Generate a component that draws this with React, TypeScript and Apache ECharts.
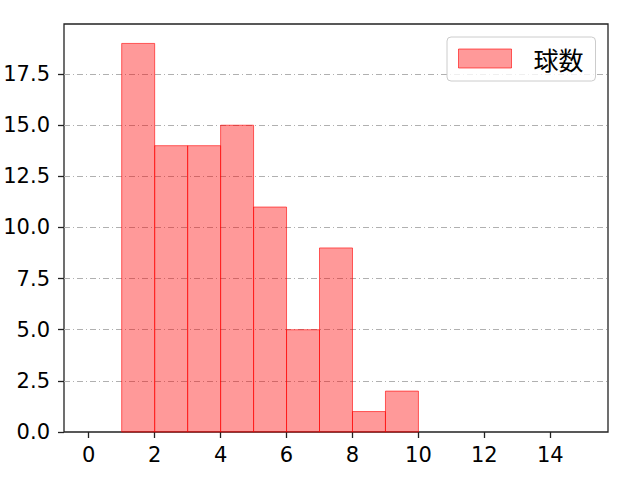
import { useEffect, useRef } from "react";
import * as echarts from "echarts";

const binEdges = [0, 1, 2, 3, 4, 5, 6, 7, 8, 9, 10, 11, 12, 13, 14, 15];
const counts = [0, 19, 14, 14, 15, 11, 5, 9, 1, 2, 0, 0, 0, 0, 0];
const xTicks = [0, 2, 4, 6, 8, 10, 12, 14];
const yTicks = [0, 2.5, 5, 7.5, 10, 12.5, 15, 17.5];
const seriesName = "球数";

const FILL = "rgba(255,0,0,0.4)";
const EDGE = "rgba(255,0,0,0.6)";
const CJK = "'Noto Sans CJK JP', sans-serif";
const NUM = "'DejaVu Sans', sans-serif";

export default function App() {
    const ref = useRef<HTMLDivElement>(null);

    useEffect(() => {
        if (!ref.current) return;
        const chart = echarts.init(ref.current, undefined, { renderer: "svg" });
        const data = counts.map((c, i) => [binEdges[i], binEdges[i + 1], c]);

        chart.setOption({
            animation: false,
            backgroundColor: "#fff",
            grid: {
                left: 64,
                right: 32,
                top: 24,
                bottom: 48,
                show: true,
                borderColor: "#222",
                borderWidth: 1.3,
                backgroundColor: "transparent",
            },
            legend: {
                data: [{ name: seriesName, icon: "rect" }],
                left: 447,
                top: 37,
                itemWidth: 53,
                itemHeight: 19,
                padding: [9, 12, 10, 11],
                borderColor: "#cccccc",
                borderWidth: 1,
                borderRadius: 4,
                backgroundColor: "rgba(255,255,255,0.8)",
                textStyle: {
                    fontSize: 25,
                    color: "#000",
                    fontFamily: CJK,
                    padding: [0, 0, 0, 17],
                },
                itemStyle: { color: FILL, borderColor: EDGE, borderWidth: 1 },
            },
            xAxis: {
                type: "value",
                min: -0.75,
                max: 15.75,
                axisLine: { show: false, onZero: false },
                axisTick: {
                    show: true,
                    length: 6,
                    lineStyle: { color: "#222", width: 1.3 },
                    customValues: xTicks,
                },
                axisLabel: {
                    color: "#000",
                    fontSize: 21,
                    margin: 12,
                    fontFamily: NUM,
                    customValues: xTicks,
                    formatter: (v: number) => String(v),
                },
                splitLine: { show: false },
            },
            yAxis: {
                type: "value",
                min: 0,
                max: 19.95,
                interval: 2.5,
                axisLine: { show: false, onZero: false },
                axisTick: {
                    show: true,
                    length: 6,
                    lineStyle: { color: "#222", width: 1.3 },
                    customValues: yTicks,
                },
                axisLabel: {
                    color: "#000",
                    fontSize: 21,
                    margin: 14,
                    fontFamily: NUM,
                    customValues: yTicks,
                    formatter: (v: number) => v.toFixed(1),
                },
                splitLine: {
                    show: true,
                    showMinLine: false,
                    lineStyle: { color: "#b0b0b0", width: 1, type: [6, 3, 1, 3] },
                },
            },
            series: [
                {
                    name: seriesName,
                    type: "custom",
                    itemStyle: { color: FILL, borderColor: EDGE },
                    encode: { x: [0, 1], y: 2 },
                    data,
                    renderItem: (params: any, api: any) => {
                        const x0 = api.value(0);
                        const x1 = api.value(1);
                        const h = api.value(2);
                        if (!h) return null;
                        const p0 = api.coord([x0, h]);
                        const p1 = api.coord([x1, 0]);
                        return {
                            type: "rect",
                            shape: {
                                x: p0[0],
                                y: p0[1],
                                width: p1[0] - p0[0],
                                height: p1[1] - p0[1],
                            },
                            style: { fill: FILL, stroke: EDGE, lineWidth: 1 },
                        };
                    },
                },
            ],
        });

        return () => chart.dispose();
    }, []);

    return (
        <div
            ref={ref}
            style={{ position: "fixed", left: 0, top: 0, width: 640, height: 480 }}
        />
    );
}
